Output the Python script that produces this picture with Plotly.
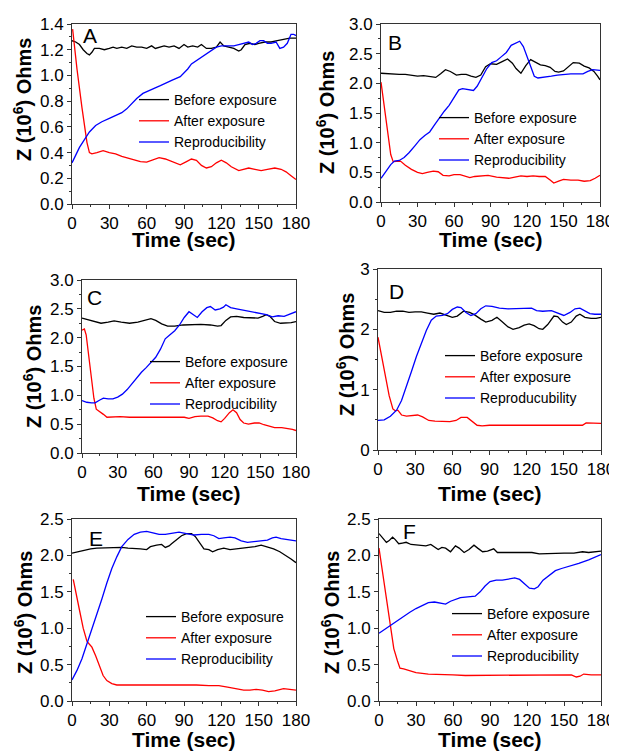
import plotly.graph_objects as go

# page body has an 8px default margin; figure sized to fit the 617x752 window
OFF = 8
W, H = 617 - OFF, 752 - OFF
FONT = "Liberation Sans, Arial, sans-serif"

# ---------------- DATA ----------------
# Panel A
a_bef_t = [0,3,6,9,12,14,16,18,22,26,30,33,36,40,44,48,52,56,60,64,67,70,74,78,82,86,90,93,97,101,104,108,112,116,119,122,126,130,134,136,139,143,147,150,155,160,165,170,175,180]
a_bef_v = [1.27,1.26,1.24,1.20,1.17,1.16,1.18,1.21,1.21,1.20,1.21,1.22,1.21,1.22,1.21,1.23,1.22,1.22,1.21,1.23,1.21,1.22,1.23,1.22,1.23,1.21,1.24,1.22,1.23,1.22,1.24,1.21,1.21,1.22,1.26,1.23,1.22,1.21,1.19,1.20,1.24,1.25,1.24,1.25,1.26,1.26,1.27,1.28,1.29,1.29]
a_aft_t = [0.5,4,8,12,14,16,20,25,30,35,40,45,50,55,60,65,70,75,80,87,92,96,100,104,108,112,116,120,124,128,134,138,142,147,152,157,163,168,172,176,180]
a_aft_v = [1.36,1.05,0.75,0.48,0.40,0.39,0.40,0.415,0.40,0.39,0.37,0.355,0.345,0.33,0.325,0.34,0.36,0.35,0.33,0.305,0.33,0.35,0.34,0.30,0.28,0.29,0.32,0.34,0.32,0.29,0.26,0.27,0.28,0.27,0.26,0.27,0.28,0.27,0.25,0.22,0.19]
a_rep_t = [0,3,6,10,14,19,24,30,35,40,44,48,52,57,62,66,71,76,81,87,90,93,96,99,103,107,112,116,120,125,130,134,138,142,145,148,151,154,157,160,164,167,170,173,176,178,180]
a_rep_v = [0.32,0.38,0.44,0.50,0.56,0.61,0.64,0.666,0.69,0.71,0.74,0.78,0.82,0.86,0.885,0.90,0.92,0.945,0.965,0.99,1.02,1.05,1.09,1.11,1.13,1.16,1.19,1.22,1.23,1.23,1.23,1.24,1.25,1.26,1.24,1.25,1.27,1.27,1.25,1.25,1.26,1.21,1.22,1.25,1.32,1.32,1.31]

# Panel B
b_bef_t = [0,5,10,15,20,25,30,35,40,45,49,53,57,62,66,70,74,78,82,86,90,95,100,104,108,111,115,119,123,127,131,135,139,143,146,150,154,158,163,167,171,175,178,180]
b_bef_v = [2.17,2.16,2.15,2.15,2.15,2.14,2.12,2.13,2.11,2.10,2.16,2.23,2.20,2.14,2.15,2.15,2.12,2.10,2.14,2.28,2.33,2.32,2.37,2.41,2.34,2.25,2.17,2.30,2.40,2.36,2.31,2.30,2.27,2.20,2.19,2.21,2.28,2.35,2.34,2.29,2.26,2.20,2.12,2.06]
b_aft_t = [0,3,6,8,10,13,16,20,25,30,34,38,43,47,51,56,60,65,70,73,77,82,88,95,100,105,110,115,120,125,130,135,139,142,146,150,156,162,167,172,176,180]
b_aft_v = [2.02,1.55,1.05,0.80,0.68,0.69,0.69,0.62,0.55,0.50,0.48,0.50,0.52,0.51,0.45,0.44,0.46,0.46,0.43,0.41,0.43,0.44,0.45,0.42,0.41,0.40,0.42,0.44,0.43,0.44,0.43,0.43,0.37,0.32,0.35,0.38,0.37,0.37,0.35,0.36,0.40,0.45]
b_rep_t = [0,4,8,11,15,19,23,28,32,36,40,44,48,52,56,60,64,67,72,76,79,83,87,91,95,99,103,107,111,114,117,120,123,126,129,134,140,145,150,156,162,166,170,174,180]
b_rep_v = [0.40,0.52,0.63,0.69,0.70,0.75,0.83,0.95,1.05,1.12,1.18,1.30,1.42,1.53,1.63,1.76,1.89,1.91,1.90,1.88,1.95,2.10,2.25,2.35,2.38,2.45,2.52,2.64,2.68,2.71,2.62,2.45,2.28,2.12,2.09,2.10,2.12,2.14,2.15,2.16,2.16,2.16,2.20,2.23,2.22]

# Panel C
c_bef_t = [0,5,10,16,22,27,33,40,47,53,58,62,67,72,78,85,92,100,108,114,117,121,125,130,136,142,148,152,155,158,162,167,172,176,180]
c_bef_v = [2.34,2.31,2.28,2.25,2.27,2.29,2.27,2.25,2.27,2.30,2.33,2.30,2.24,2.20,2.20,2.22,2.23,2.23,2.22,2.20,2.21,2.30,2.36,2.37,2.35,2.34,2.34,2.37,2.40,2.37,2.28,2.25,2.25,2.26,2.28]
c_aft_t = [0,2,3.5,6,8,10,12,15,18,21,26,32,40,50,60,70,80,86,90,95,100,106,110,114,117,120,124,127,130,133,136,140,145,149,153,158,162,168,173,177,180]
c_aft_v = [2.13,2.15,2.05,1.60,1.25,0.95,0.76,0.72,0.67,0.62,0.63,0.63,0.62,0.62,0.62,0.63,0.63,0.62,0.60,0.63,0.64,0.64,0.61,0.56,0.54,0.60,0.70,0.75,0.70,0.58,0.52,0.50,0.52,0.52,0.49,0.46,0.44,0.44,0.43,0.41,0.39]
c_rep_t = [0,4,8,11,15,18,22,26,30,34,38,42,46,50,54,58,62,66,70,74,78,82,86,90,94,97,101,105,108,112,116,119,121,125,130,135,140,145,150,155,160,165,170,175,180]
c_rep_v = [0.91,0.88,0.87,0.87,0.92,0.95,0.94,0.94,0.97,1.02,1.10,1.20,1.30,1.40,1.48,1.57,1.66,1.80,1.98,2.05,2.12,2.22,2.35,2.45,2.40,2.35,2.45,2.52,2.54,2.48,2.50,2.53,2.57,2.52,2.50,2.48,2.47,2.45,2.43,2.40,2.36,2.38,2.37,2.41,2.45]

# Panel D
d_bef_t = [0,5,10,15,20,25,30,35,40,45,50,55,60,64,69,74,78,83,87,92,96,100,105,109,114,118,122,126,130,133,137,142,145,149,152,156,160,163,167,172,176,180]
d_bef_v = [2.31,2.28,2.28,2.30,2.30,2.28,2.29,2.29,2.27,2.25,2.27,2.23,2.20,2.22,2.30,2.28,2.24,2.17,2.12,2.15,2.20,2.13,2.04,2.00,2.03,2.07,2.09,2.06,2.01,2.00,2.08,2.22,2.21,2.12,2.08,2.12,2.22,2.25,2.20,2.18,2.18,2.20]
d_aft_t = [0,3,6,9,12,14,16,19,23,28,32,36,41,46,52,58,63,67,72,76,80,84,90,100,110,120,130,140,150,160,165,168,173,180]
d_aft_v = [1.87,1.55,1.22,0.90,0.68,0.65,0.66,0.58,0.56,0.57,0.58,0.55,0.49,0.48,0.48,0.47,0.49,0.54,0.54,0.48,0.41,0.40,0.41,0.41,0.41,0.41,0.40,0.40,0.41,0.40,0.41,0.45,0.45,0.44]
d_rep_t = [0,5,10,15,19,23,27,31,35,39,43,47,52,56,60,64,67,71,75,79,83,87,92,98,105,112,118,124,128,133,140,145,150,155,159,163,167,171,175,180]
d_rep_v = [0.49,0.50,0.56,0.66,0.82,1.05,1.30,1.55,1.77,1.98,2.15,2.22,2.23,2.26,2.33,2.37,2.36,2.28,2.23,2.26,2.34,2.39,2.38,2.35,2.34,2.34,2.34,2.35,2.31,2.30,2.31,2.27,2.23,2.28,2.34,2.35,2.31,2.26,2.25,2.25]

# Panel E
e_bef_t = [0,5,10,15,20,30,40,45,50,55,60,63,68,72,75,78,80,84,88,92,96,99,102,106,110,113,117,122,127,132,137,142,147,152,157,162,167,172,176,180]
e_bef_v = [2.03,2.05,2.08,2.09,2.10,2.11,2.11,2.10,2.10,2.09,2.08,2.12,2.14,2.15,2.11,2.13,2.16,2.22,2.27,2.30,2.30,2.26,2.19,2.09,2.08,2.05,2.08,2.10,2.08,2.09,2.10,2.10,2.12,2.14,2.12,2.09,2.05,2.00,1.95,1.90]
e_aft_t = [1,3,6,9,12,14,16,19,22,25,28,32,36,45,60,75,90,100,110,118,125,132,138,143,148,153,158,163,170,175,180]
e_aft_v = [1.67,1.52,1.25,1.00,0.82,0.78,0.74,0.62,0.47,0.35,0.28,0.24,0.22,0.22,0.23,0.22,0.22,0.22,0.21,0.21,0.19,0.17,0.15,0.15,0.16,0.15,0.13,0.14,0.17,0.16,0.15]
e_rep_t = [0,4,8,12,16,20,24,28,32,36,40,45,50,55,60,65,70,75,80,86,92,98,104,110,114,118,122,127,131,136,141,147,152,157,161,164,168,174,180]
e_rep_v = [0.29,0.42,0.58,0.78,0.97,1.18,1.40,1.62,1.82,1.98,2.12,2.22,2.29,2.32,2.33,2.31,2.29,2.29,2.30,2.32,2.30,2.28,2.29,2.29,2.27,2.23,2.24,2.25,2.24,2.20,2.18,2.19,2.20,2.21,2.24,2.25,2.23,2.21,2.20]

# Panel F
f_bef_t = [0,2,4,6,8,11,13,16,19,22,26,32,38,42,45,48,51,54,58,62,65,69,73,77,80,84,88,93,96,102,110,118,124,130,140,150,158,165,170,175,180]
f_bef_v = [2.30,2.26,2.21,2.18,2.20,2.25,2.22,2.16,2.17,2.18,2.15,2.14,2.13,2.15,2.12,2.08,2.11,2.10,2.05,2.13,2.10,2.04,2.08,2.14,2.10,2.05,2.06,2.09,2.04,2.04,2.04,2.05,2.04,2.02,2.03,2.03,2.03,2.05,2.04,2.05,2.06]
f_aft_t = [0,3,6,9,12,15,17,20,25,30,40,50,60,70,80,90,100,110,120,130,140,150,156,160,163,166,172,180]
f_aft_v = [2.10,1.75,1.35,1.00,0.72,0.55,0.45,0.44,0.41,0.39,0.37,0.37,0.36,0.35,0.35,0.36,0.36,0.35,0.36,0.36,0.36,0.36,0.36,0.33,0.34,0.37,0.36,0.36]
f_rep_t = [0,5,10,15,20,25,30,35,40,45,50,54,58,62,66,72,78,82,86,90,95,100,105,110,114,118,122,126,129,133,138,143,148,155,162,170,175,180]
f_rep_v = [0.93,0.99,1.05,1.11,1.17,1.22,1.27,1.31,1.35,1.36,1.34,1.33,1.37,1.40,1.42,1.43,1.44,1.50,1.58,1.64,1.66,1.66,1.68,1.69,1.67,1.61,1.55,1.54,1.57,1.66,1.73,1.79,1.82,1.85,1.89,1.94,1.97,2.01]

names_std = ["Before exposure", "After exposure", "Reproducibility"]
names_d = ["Before exposure", "After exposure", "Reproducubility"]
panel_letters = ["A", "B", "C", "D", "E", "F"]
y_ranges = [[0, 1.4], [0, 3], [0, 3], [0, 3], [0, 2.5], [0, 2.5]]
y_dticks = [0.2, 0.5, 0.5, 1, 0.5, 0.5]
y_formats = [".1f", ".1f", ".1f", "d", ".1f", ".1f"]
x_ticks = [0, 30, 60, 90, 120, 150, 180]

series = [
    [(a_bef_t, a_bef_v), (a_aft_t, a_aft_v), (a_rep_t, a_rep_v)],
    [(b_bef_t, b_bef_v), (b_aft_t, b_aft_v), (b_rep_t, b_rep_v)],
    [(c_bef_t, c_bef_v), (c_aft_t, c_aft_v), (c_rep_t, c_rep_v)],
    [(d_bef_t, d_bef_v), (d_aft_t, d_aft_v), (d_rep_t, d_rep_v)],
    [(e_bef_t, e_bef_v), (e_aft_t, e_aft_v), (e_rep_t, e_rep_v)],
    [(f_bef_t, f_bef_v), (f_aft_t, f_aft_v), (f_rep_t, f_rep_v)],
]
colors = ["#000000", "#ff0000", "#0000ff"]

# ---------------- LAYOUT (screen pixel boxes) ----------------
boxes = [(72, 296, 24, 204), (381, 600, 24, 202), (82, 296, 280, 453),
         (378, 601, 269, 450), (72, 296, 519, 701), (379, 601, 519, 701)]
ytitle_x = [22, 326, 32, 346, 23, 330]
ytitle_y = [100, 113, 367, 355, 613, 613]
xtitle_y = [240, 240, 493, 493, 739, 739]
letter_pos = [(90, 36), (395, 43), (94, 297), (396, 291), (96, 538), (409, 531)]
legend_pos = [(139, 101), (439, 119), (150, 363), (445, 357), (146, 618), (452, 615)]

def px(x):
    return (x - OFF) / W

def py(y):
    return 1 - (y - OFF) / H

fig = go.Figure()
layout = dict(width=W, height=H, margin=dict(l=0, r=0, t=0, b=0, autoexpand=False),
              paper_bgcolor="white", plot_bgcolor="white",
              font=dict(family=FONT, color="black"), annotations=[], showlegend=True)

for i in range(6):
    k = "" if i == 0 else str(i + 1)
    xa, ya = "x" + k, "y" + k
    lg = "legend" if i == 0 else "legend" + str(i + 1)
    nm = names_d if i == 3 else names_std
    for j, (t, v) in enumerate(series[i]):
        fig.add_trace(go.Scatter(x=t, y=v, mode="lines", name=nm[j],
                                 line=dict(color=colors[j], width=1.3),
                                 xaxis=xa, yaxis=ya, legend=lg))
    l, r, tp, bt = boxes[i]
    axline = dict(showline=True, linecolor="#333", linewidth=1, mirror=True,
                  ticks="outside", ticklen=4, tickwidth=1, tickcolor="#333",
                  showgrid=False, zeroline=False, automargin=False,
                  tickfont=dict(family=FONT, size=17, color="black"))
    layout["xaxis" + k] = dict(axline, domain=[px(l), px(r)], range=[0, 180],
                               tickvals=x_ticks, anchor=ya,
                               minor=dict(dtick=15, ticks="outside", ticklen=2, tickcolor="#333"))
    layout["yaxis" + k] = dict(axline, domain=[py(bt), py(tp)], range=y_ranges[i],
                               dtick=y_dticks[i], tickformat=y_formats[i], anchor=xa,
                               minor=dict(dtick=y_dticks[i] / 2, ticks="outside", ticklen=2, tickcolor="#333"))
    layout["annotations"].append(dict(text="<b>Time (sec)</b>", xref="paper", yref="paper",
                                      x=px((l + r) / 2), y=py(xtitle_y[i]), showarrow=False,
                                      xanchor="center", yanchor="middle",
                                      font=dict(family=FONT, size=21)))
    layout["annotations"].append(dict(text="<b>Z (10<sup>6</sup>) Ohms</b>", xref="paper", yref="paper",
                                      x=px(ytitle_x[i]), y=py(ytitle_y[i]), showarrow=False,
                                      textangle=-90, xanchor="center", yanchor="middle",
                                      font=dict(family=FONT, size=20)))
    lx, ly = letter_pos[i]
    layout["annotations"].append(dict(text=panel_letters[i], xref="paper", yref="paper",
                                      x=px(lx), y=py(ly), showarrow=False,
                                      xanchor="center", yanchor="middle",
                                      font=dict(family=FONT, size=21)))
    gx, gy = legend_pos[i]
    layout[lg] = dict(x=px(gx - 5), y=py(gy - 17), xanchor="left", yanchor="top",
                      bgcolor="rgba(0,0,0,0)", borderwidth=0,
                      font=dict(family=FONT, size=14, color="black"),
                      itemwidth=30, tracegroupgap=0)

fig.update_layout(**layout)
fig.write_html("out.html")
